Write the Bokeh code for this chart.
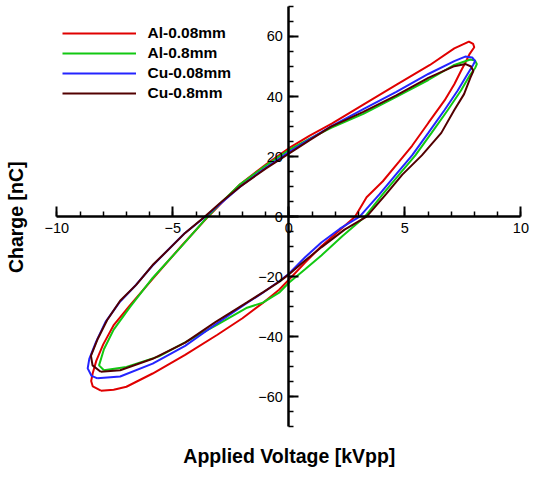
from math import pi
from bokeh.plotting import figure
from bokeh.models import (LinearAxis, FixedTicker, Range1d, Legend, LegendItem, Label)
from bokeh.embed import file_html
from bokeh.resources import INLINE

# ---------------- data ----------------
series_names = ["Al-0.08mm", "Al-0.8mm", "Cu-0.08mm", "Cu-0.8mm"]
series_colors = ["#e00000", "#12c812", "#2424ff", "#520000"]

al008_x = [-8.1, -7.55, -7.0, -5.87, -4.47, -3.08, -2.0, -1.12, -0.42, 0.0, 0.7, 1.4, 2.2, 2.85,
           3.35, 4.05, 4.75, 5.31, 6.01, 6.71, 7.13, 7.41, 7.62, 7.8, 7.99, 7.94, 7.76,
           7.13, 6.08, 4.68, 3.28, 1.85, 0.9, 0.0, -0.95, -2.1, -2.8, -3.48,
           -4.6, -5.85, -6.85, -7.54, -8.0, -8.3, -8.45, -8.52, -8.45, -8.1]
al008_y = [-57.9, -57.6, -56.6, -52.2, -46.0, -39.3, -33.8, -28.7, -24.3, -21.0, -15.3, -9.8, -4.4, 0.0,
           6.5, 11.8, 18.3, 23.6, 31.2, 38.7, 44.1, 48.4, 51.5, 54.3, 56.4, 57.5, 58.3,
           56.0, 50.5, 44.1, 37.6, 31.0, 27.0, 22.8, 17.6, 10.8, 5.4, 0.0,
           -9.5, -20.5, -29.5, -36.0, -42.5, -48.0, -52.0, -54.7, -56.5, -57.9]

al08_x = [-7.97, -7.0, -5.6, -4.47, -3.1, -1.8, -1.12, -0.42, 0.0, 0.7, 1.4, 2.3, 3.28,
          4.05, 4.75, 5.45, 6.15, 6.85, 7.41, 7.82, 8.03, 8.1, 8.02, 7.82,
          7.13, 6.01, 4.61, 3.21, 1.82, 0.9, 0.0, -1.0, -2.1, -2.8, -3.5,
          -4.61, -5.87, -6.85, -7.55, -7.97, -8.18, -7.97]
al08_y = [-51.1, -50.0, -46.5, -41.8, -36.0, -30.3, -28.6, -25.3, -22.0, -17.5, -12.9, -6.5, 0.0,
          7.5, 14.0, 20.4, 27.9, 35.5, 41.9, 47.3, 49.5, 50.8, 52.0, 52.3,
          50.5, 45.5, 39.8, 34.2, 29.6, 26.0, 22.2, 17.0, 10.8, 5.6, 0.0,
          -9.7, -20.4, -30.1, -37.6, -44.1, -49.5, -51.1]

cu008_x = [-8.25, -7.27, -5.87, -4.47, -3.15, -1.82, -1.12, -0.42, 0.0, 0.7, 1.4, 2.2, 3.05,
           3.91, 4.61, 5.31, 6.01, 6.71, 7.27, 7.69, 7.94, 8.03, 7.9, 7.6,
           7.13, 6.01, 4.61, 3.21, 1.82, 0.9, 0.0, -1.0, -2.1, -2.85, -3.6,
           -4.5, -5.2, -5.9, -6.6, -7.3, -7.9, -8.3, -8.6, -8.67, -8.5, -8.25]
cu008_y = [-53.8, -53.2, -48.9, -43.0, -35.8, -28.8, -25.3, -21.5, -19.0, -13.5, -8.6, -4.0, 0.0,
           7.5, 14.0, 20.4, 27.9, 35.5, 41.9, 47.3, 50.5, 51.8, 53.0, 53.3,
           51.8, 47.5, 41.5, 35.8, 30.1, 25.8, 21.5, 16.3, 10.0, 5.0, 0.0,
           -5.6, -11.0, -16.5, -22.8, -28.5, -35.0, -41.5, -47.3, -50.5, -53.0, -53.8]

cu08_x = [-8.11, -7.27, -5.87, -4.47, -3.15, -1.82, -1.12, -0.42, 0.0, 0.7, 1.4, 2.4, 3.35,
          4.19, 4.89, 5.73, 6.57, 7.13, 7.55, 7.82, 7.95, 7.85, 7.62,
          7.13, 6.01, 4.61, 3.21, 1.82, 0.9, 0.0, -1.0, -2.1, -2.9, -3.63,
          -4.47, -5.17, -5.87, -6.57, -7.27, -7.83, -8.25, -8.53, -8.46, -8.11]
cu08_y = [-51.6, -51.1, -47.3, -41.9, -35.0, -28.6, -25.2, -21.7, -19.2, -14.6, -10.2, -4.3, 0.0,
          7.5, 14.0, 20.4, 27.9, 35.5, 40.8, 46.2, 48.5, 50.0, 50.8,
          50.1, 46.2, 40.3, 34.9, 30.0, 25.5, 21.0, 16.0, 10.0, 5.0, 0.0,
          -5.4, -10.8, -16.1, -22.6, -28.0, -34.4, -40.9, -46.3, -49.5, -51.6]

series_x = [al008_x, al08_x, cu008_x, cu08_x]
series_y = [al008_y, al08_y, cu008_y, cu08_y]

x_ticks = [-10, -5, 0, 5, 10]
x_tick_labels = ["\u221210", "\u22125", "0", "5", "10"]
x_minor_ticks = [-10, -9, -8, -7, -6, -5, -4, -3, -2, -1, 0, 1, 2, 3, 4, 5, 6, 7, 8, 9, 10]
y_ticks = [-60, -40, -20, 0, 20, 40, 60]
y_tick_labels = ["\u221260", "\u221240", "\u221220", "0", "20", "40", "60"]
y_minor_ticks = [-70, -65, -60, -55, -50, -45, -40, -35, -30, -25, -20, -15, -10, -5, 0,
                 5, 10, 15, 20, 25, 30, 35, 40, 45, 50, 55, 60, 65, 70]

x_title = "Applied Voltage [kVpp]"
y_title = "Charge [nC]"

# ---------------- figure ----------------
FONT = "Liberation Sans"
W, H = 534, 473
p = figure(width=W, height=H, output_backend="svg", toolbar_location=None,
           x_axis_type=None, y_axis_type=None,
           x_range=Range1d(-12.427, 10.586), y_range=Range1d(-85.48, 71.96),
           min_border=0, min_border_left=0, min_border_right=0,
           min_border_top=0, min_border_bottom=0)
p.outline_line_color = None
p.background_fill_color = "white"
p.border_fill_color = "white"

renderers = []
for xs, ys, c in zip(series_x, series_y, series_colors):
    xx = list(xs) + [xs[0]]
    yy = list(ys) + [ys[0]]
    r = p.line(xx, yy, line_color=c, line_width=2)
    renderers.append(r)


def style_axis(ax):
    ax.axis_line_width = 2.5
    ax.axis_line_color = "black"
    ax.major_tick_line_width = 2
    ax.major_tick_line_color = "black"
    ax.minor_tick_line_width = 1.5
    ax.minor_tick_line_color = "black"
    ax.major_tick_in = 10
    ax.major_tick_out = 0
    ax.minor_tick_in = 5
    ax.minor_tick_out = 0
    ax.major_label_text_font = FONT
    ax.major_label_text_font_size = "14.5px"
    ax.major_label_text_color = "black"
    ax.major_label_standoff = 6


xaxis = LinearAxis(fixed_location=0,
                   ticker=FixedTicker(ticks=x_ticks, minor_ticks=x_minor_ticks),
                   bounds=(x_ticks[0], x_ticks[-1]),
                   major_label_overrides=dict(zip(x_ticks, x_tick_labels)))
style_axis(xaxis)
p.add_layout(xaxis, "below")

yaxis = LinearAxis(fixed_location=0,
                   ticker=FixedTicker(ticks=y_ticks, minor_ticks=y_minor_ticks),
                   bounds=(y_minor_ticks[0], y_minor_ticks[-1]),
                   major_label_overrides=dict(zip(y_ticks, y_tick_labels)))
style_axis(yaxis)
p.add_layout(yaxis, "left")

legend = Legend(items=[LegendItem(label=n, renderers=[r]) for n, r in zip(series_names, renderers)],
                location=(56.5, 364.8), orientation="vertical",
                glyph_width=74, glyph_height=20, label_height=20, label_standoff=12,
                spacing=0, padding=5, margin=0,
                border_line_alpha=0, background_fill_alpha=0,
                label_text_font=FONT, label_text_font_style="bold",
                label_text_font_size="15.5px", label_text_color="black")
p.add_layout(legend)

p.add_layout(Label(x=0.02, y=-79.7, text=x_title, text_align="center", text_baseline="middle",
                   text_font=FONT, text_font_style="bold", text_font_size="19.5px",
                   text_color="black"))
p.add_layout(Label(x=-11.76, y=-0.2, text=y_title, angle=pi / 2, text_align="center",
                   text_baseline="middle", text_font=FONT, text_font_style="bold",
                   text_font_size="19.5px", text_color="black"))

open("out.html", "w").write(file_html(p, INLINE))
